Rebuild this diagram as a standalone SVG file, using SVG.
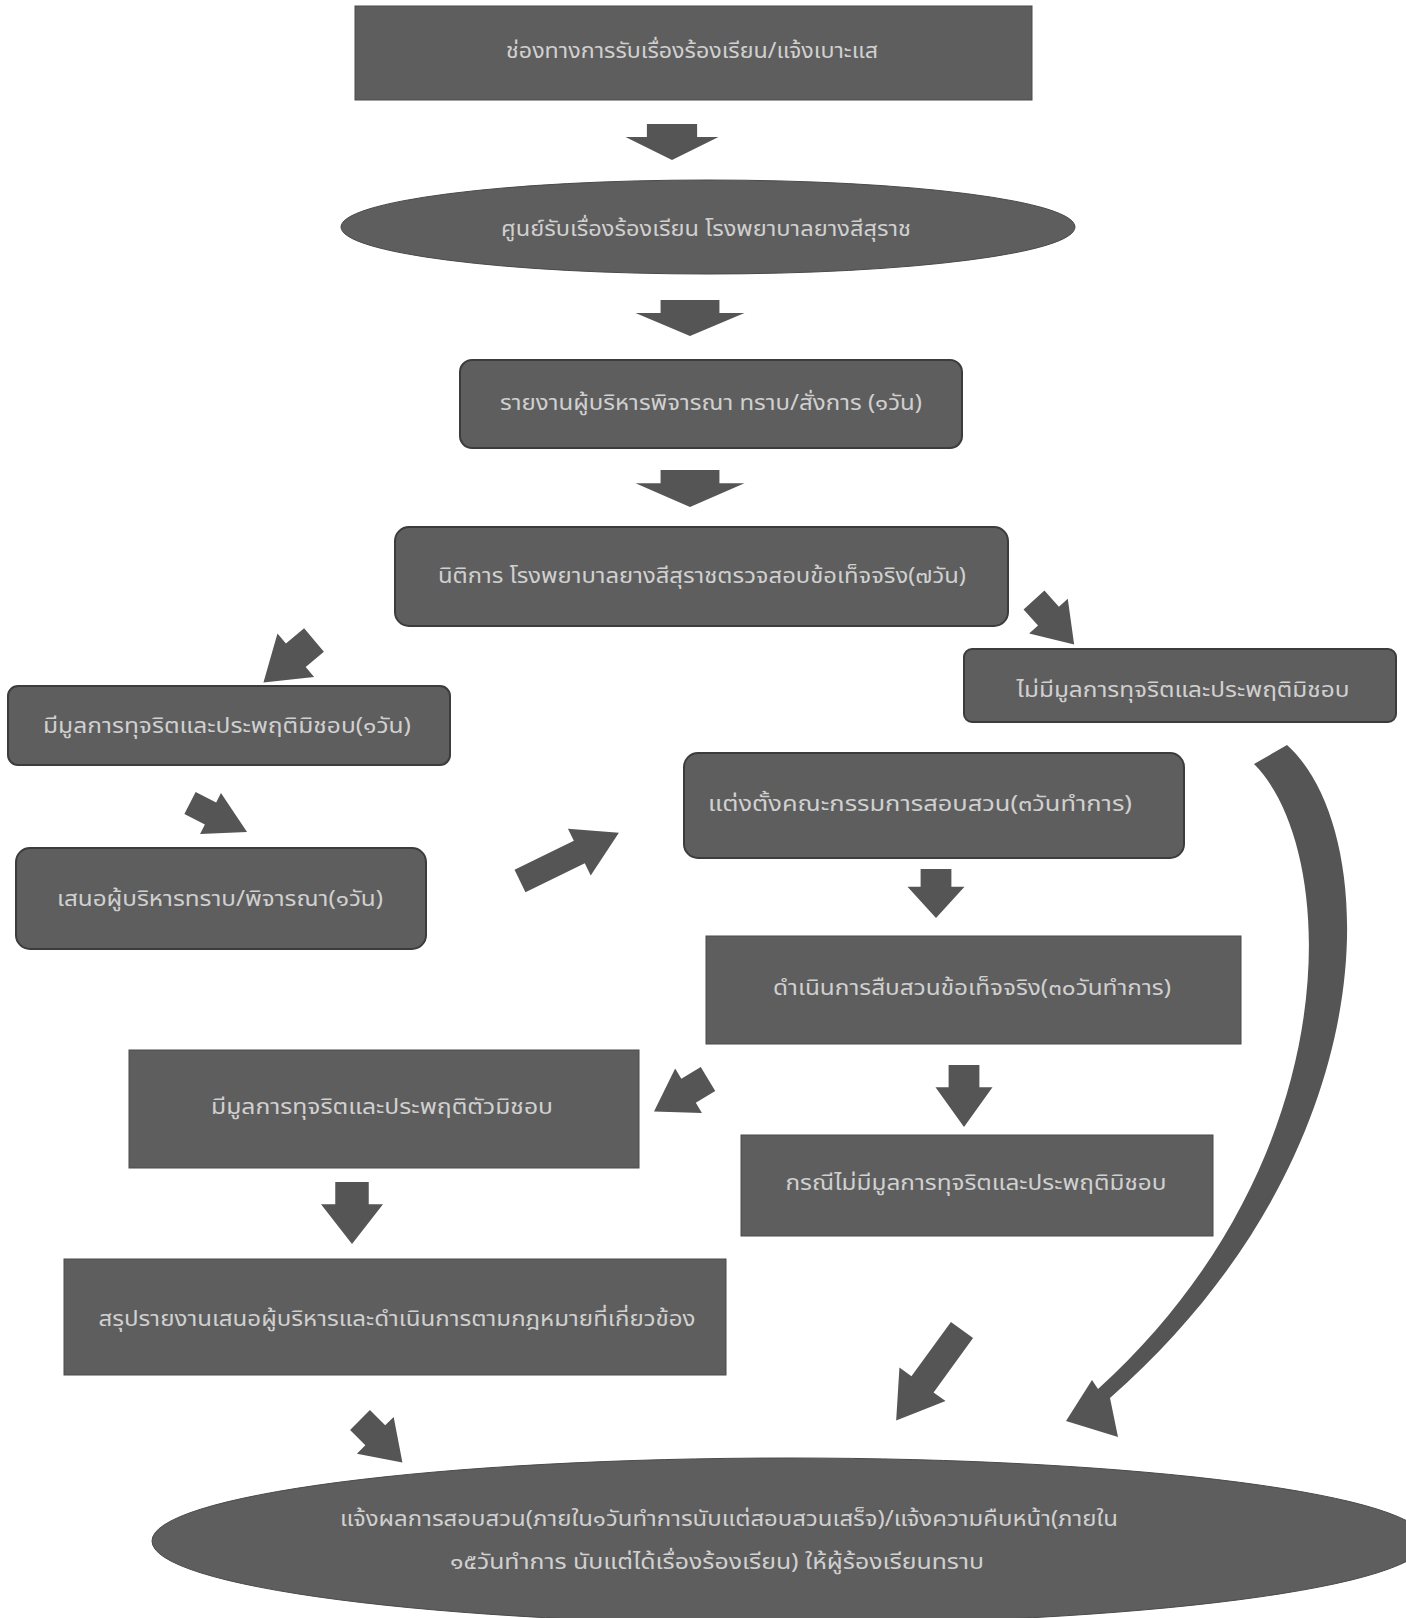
<svg xmlns="http://www.w3.org/2000/svg" width="1406" height="1618" viewBox="0 0 1406 1618">
<defs>
<style>
.bx{fill:#5e5e5e;stroke:#3c3c3c;stroke-width:2}
.sq{fill:#5e5e5e;stroke:#4a4a4a;stroke-width:1}
.t{font-family:"Noto Sans Thai","Noto Sans","DejaVu Sans",sans-serif;font-size:21px;fill:#d0d0d0;text-anchor:middle}
.ar{fill:#555555}
</style>
<path id="da" d="M-0.27,0 H0.27 V0.36 H0.5 L0,1 L-0.5,0.36 H-0.27 Z"/>
<path id="la" d="M-0.24,0 H0.24 V0.6 H0.5 L0,1 L-0.5,0.6 H-0.24 Z"/>
</defs>
<rect width="1406" height="1618" fill="#ffffff"/>

<g id="connectors" class="ar">
<use href="#da" transform="translate(672,124) scale(93,36)"/>
<use href="#da" transform="translate(690,300) scale(109,36)"/>
<use href="#da" transform="translate(690,470) scale(109,37)"/>
<use href="#da" transform="translate(1034,600) rotate(-42) scale(52,60)"/>
<use href="#da" transform="translate(314,640) rotate(50) scale(57,66)"/>
<use href="#da" transform="translate(190,803) rotate(-63) scale(46,64)"/>
<use href="#la" transform="translate(520,881) rotate(-116) scale(52,110)"/>
<use href="#da" transform="translate(936,869) scale(57,49)"/>
<use href="#da" transform="translate(708,1079) rotate(59) scale(52,63)"/>
<use href="#da" transform="translate(964,1065) scale(57,62)"/>
<use href="#da" transform="translate(352,1182) scale(62,62)"/>
<use href="#da" transform="translate(360,1420) rotate(-45) scale(52,60)"/>
<use href="#la" transform="translate(962,1330) rotate(36) scale(57,112)"/>
<path d="M1287,745 C1382,830 1392,1150 1110,1398 L1118,1437 L1066,1421 L1092,1380 L1098,1389 C1350,1160 1340,850 1254,764 Z"/>
</g>

<g id="n1"><rect class="sq" x="355" y="6" width="677" height="94"/><text class="t" x="692" y="58" textLength="372" lengthAdjust="spacingAndGlyphs">ช่องทางการรับเรื่องร้องเรียน/แจ้งเบาะแส</text></g>
<g id="n2"><ellipse class="sq" cx="708" cy="227" rx="367" ry="47"/><text class="t" x="706" y="236" textLength="410" lengthAdjust="spacingAndGlyphs">ศูนย์รับเรื่องร้องเรียน โรงพยาบาลยางสีสุราช</text></g>
<g id="n3"><rect class="bx" x="460" y="360" width="502" height="88" rx="12"/><text class="t" x="711" y="410" textLength="422" lengthAdjust="spacingAndGlyphs">รายงานผู้บริหารพิจารณา ทราบ/สั่งการ (๑วัน)</text></g>
<g id="n4"><rect class="bx" x="395" y="527" width="613" height="99" rx="14"/><text class="t" x="702" y="583" textLength="528" lengthAdjust="spacingAndGlyphs">นิติการ โรงพยาบาลยางสีสุราชตรวจสอบข้อเท็จจริง(๗วัน)</text></g>
<g id="n5"><rect class="bx" x="964" y="649" width="432" height="73" rx="8"/><text class="t" x="1183" y="697" textLength="333" lengthAdjust="spacingAndGlyphs">ไม่มีมูลการทุจริตและประพฤติมิชอบ</text></g>
<g id="n6"><rect class="bx" x="8" y="686" width="442" height="79" rx="10"/><text class="t" x="227" y="733" textLength="368" lengthAdjust="spacingAndGlyphs">มีมูลการทุจริตและประพฤติมิชอบ(๑วัน)</text></g>
<g id="n7"><rect class="bx" x="684" y="753" width="500" height="105" rx="14"/><text class="t" x="920" y="811" textLength="424" lengthAdjust="spacingAndGlyphs">แต่งตั้งคณะกรรมการสอบสวน(๓วันทำการ)</text></g>
<g id="n8"><rect class="bx" x="16" y="848" width="410" height="101" rx="14"/><text class="t" x="220" y="906" textLength="326" lengthAdjust="spacingAndGlyphs">เสนอผู้บริหารทราบ/พิจารณา(๑วัน)</text></g>
<g id="n9"><rect class="sq" x="706" y="936" width="535" height="108"/><text class="t" x="972" y="995" textLength="398" lengthAdjust="spacingAndGlyphs">ดำเนินการสืบสวนข้อเท็จจริง(๓๐วันทำการ)</text></g>
<g id="n10"><rect class="sq" x="129" y="1050" width="510" height="118"/><text class="t" x="382" y="1114" textLength="342" lengthAdjust="spacingAndGlyphs">มีมูลการทุจริตและประพฤติตัวมิชอบ</text></g>
<g id="n11"><rect class="sq" x="741" y="1135" width="472" height="101"/><text class="t" x="976" y="1190" textLength="381" lengthAdjust="spacingAndGlyphs">กรณีไม่มีมูลการทุจริตและประพฤติมิชอบ</text></g>
<g id="n12"><rect class="sq" x="64" y="1259" width="662" height="116"/><text class="t" x="397" y="1326" textLength="597" lengthAdjust="spacingAndGlyphs">สรุปรายงานเสนอผู้บริหารและดำเนินการตามกฎหมายที่เกี่ยวข้อง</text></g>
<g id="n13"><ellipse class="sq" cx="789" cy="1541" rx="637" ry="83"/><text class="t" x="729" y="1526" textLength="778" lengthAdjust="spacingAndGlyphs">แจ้งผลการสอบสวน(ภายใน๑วันทำการนับแต่สอบสวนเสร็จ)/แจ้งความคืบหน้า(ภายใน</text><text class="t" x="717" y="1569" textLength="534" lengthAdjust="spacingAndGlyphs">๑๕วันทำการ นับแต่ได้เรื่องร้องเรียน) ให้ผู้ร้องเรียนทราบ</text></g>
</svg>
